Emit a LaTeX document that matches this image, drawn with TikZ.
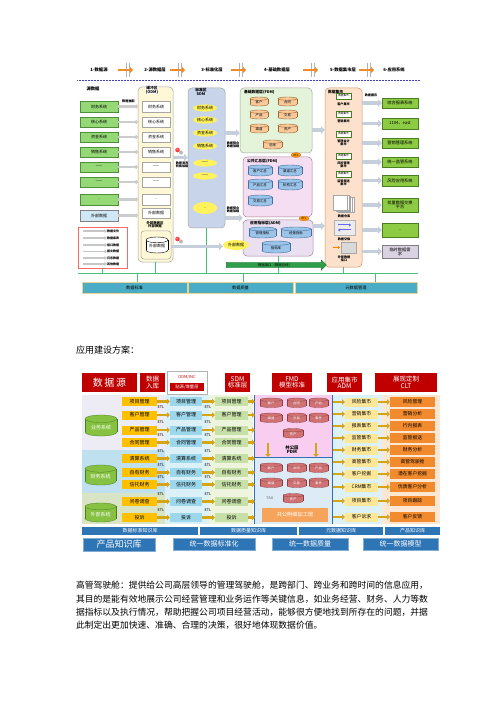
\documentclass[tikz,border=0pt]{standalone}
\usepackage{fontspec}
\setmainfont{Noto Sans CJK SC}
\usetikzlibrary{arrows.meta,shapes.geometric,shapes.arrows}
\definecolor{srcg}{HTML}{95D977}
\definecolor{srcgd}{HTML}{4F8F3A}
\definecolor{extb}{HTML}{CFE8F3}
\definecolor{odmbg}{HTML}{FFF8D6}
\definecolor{sdmbg}{HTML}{C7D4EA}
\definecolor{yel}{HTML}{FFF25C}
\definecolor{fdmbg}{HTML}{E4F4DA}
\definecolor{tanc}{HTML}{F7C99B}
\definecolor{tand}{HTML}{A0652E}
\definecolor{sumbg}{HTML}{F5DDF2}
\definecolor{bcyl}{HTML}{9CC3E8}
\definecolor{bcyld}{HTML}{44719E}
\definecolor{admbg}{HTML}{EBE0F2}
\definecolor{appbg}{HTML}{FCE2CC}
\definecolor{appbd}{HTML}{D09060}
\definecolor{appg}{HTML}{8DCB45}
\definecolor{appgd}{HTML}{4A7F1F}
\definecolor{tmpbx}{HTML}{D9D2E3}
\definecolor{btm}{HTML}{4AACC6}
\definecolor{btmbd}{HTML}{E8D58A}
\definecolor{lineg}{HTML}{45C07A}
\definecolor{busg}{HTML}{2E9E4A}
\definecolor{farr}{HTML}{C5CFDB}
\definecolor{harr}{HTML}{F28C28}
\definecolor{hred}{HTML}{C00000}
\definecolor{ayel}{HTML}{FFC000}
\definecolor{bblue}{HTML}{9DD7EB}
\definecolor{cgreen}{HTML}{C6E0A8}
\definecolor{gA}{HTML}{EDEBF3}
\definecolor{gB}{HTML}{BEE0EF}
\definecolor{gC}{HTML}{D9E4C5}
\definecolor{colB}{HTML}{DCF1F7}
\definecolor{colC}{HTML}{EDF5DE}
\definecolor{fpink}{HTML}{F9CDEF}
\definecolor{fblue}{HTML}{DDEBF7}
\definecolor{rose}{HTML}{C8585A}
\definecolor{admbgb}{HTML}{DDF2F8}
\definecolor{admbx}{HTML}{FFE79A}
\definecolor{cltbg}{HTML}{FDE7D3}
\definecolor{cltbx}{HTML}{F28A2E}
\definecolor{gold}{HTML}{D4A419}
\definecolor{kb}{HTML}{2E75B6}
\definecolor{obox}{HTML}{F6A45C}
\definecolor{vline}{HTML}{2E6FB5}
\newcommand{\fsz}[1]{\fontsize{#1}{#1}\selectfont}
\newcommand{\bx}[7]{\node[#1,minimum width={((#5)-(#3))*1pt},minimum height={((#6)-(#4))*1pt}] (#2) at ({((#3)+(#5))/2},{((#4)+(#6))/2}) {#7};}
\newcommand{\cyl}[8]{%
\pgfmathsetmacro{\cxa}{((#4)+(#6))/2}%
\pgfmathsetmacro{\rxa}{((#6)-(#4))/2}%
\pgfmathsetmacro{\rya}{((#7)-(#5))*0.18}%
\pgfmathsetmacro{\ytp}{(#5)+\rya}%
\pgfmathsetmacro{\ybt}{(#7)-\rya}%
\pgfmathsetmacro{\ytx}{(\ytp+(#7))/2}%
\path[#1] (\cxa,\ybt) ellipse [x radius=\rxa pt, y radius=\rya pt];%
\path[#1,draw=none] (#4,\ytp) rectangle (#6,\ybt);%
\path[#1,fill=none] (#4,\ytp) -- (#4,\ybt) (#6,\ytp) -- (#6,\ybt);%
\path[#1] (\cxa,\ytp) ellipse [x radius=\rxa pt, y radius=\rya pt];%
\node[#2,inner sep=0pt,align=center] (#3) at (\cxa,\ytx) {#8};}
\tikzset{
 base/.style={inner sep=0pt,outer sep=0pt,align=center},
 ta/.style={font=\fsz{4}},
 tb/.style={font=\fsz{3.4}},
 wt5/.style={font=\fsz{5},text=white},
 wt34/.style={font=\fsz{3.4},text=white},
 gbox/.style={base,ta,fill=srcg,draw=srcgd,line width=0.4pt},
 ebox/.style={base,ta,fill=extb,draw=gray,line width=0.4pt},
 doc/.style={base,ta,fill=white,draw=gray!70,line width=0.4pt},
 cont/.style={base,draw=gray!70,line width=0.5pt,rounded corners=4pt},
 yell/.style={base,ta,ellipse,fill=yel},
 fatarr/.style={line width=3.2pt,draw=farr,-{Triangle[length=4pt,width=7.5pt]}},
 grarr/.style={line width=2.2pt,draw=gray!40,-{Circle[length=3.5pt,open,fill=white]}},
 redarr/.style={line width=1.6pt,draw=gray!45,-{Triangle[length=2.5pt,width=4pt]}},
 tancyl/.style={fill=tanc,draw=tand,line width=0.4pt},
 bluecyl/.style={fill=bcyl,draw=bcyld,line width=0.4pt},
 whcyl/.style={fill=white,draw=black,line width=0.4pt},
 appgbox/.style={base,font=\fsz{4.2},fill=appg,draw=appgd,line width=0.5pt},
 btmbox/.style={base,font=\fsz{4.2},fill=btm,draw=btmbd,line width=0.6pt},
 etlb/.style={base,ellipse,fill=orange!85!yellow,draw=brown,line width=0.3pt,font=\fsz{2.8},minimum width=10pt,minimum height=5pt},
 hdr/.style={base,fill=hred,text=white,font=\fsz{6.5}},
 abox/.style={base,font=\fsz{5},fill=ayel},
 bboxs/.style={base,font=\fsz{5},fill=bblue},
 cboxs/.style={base,font=\fsz{5},fill=cgreen},
 admboxs/.style={base,font=\fsz{4.8},fill=admbx},
 cltboxs/.style={base,font=\fsz{4.8},fill=cltbx},
 garr/.style={line width=2.4pt,draw=gold,-{Triangle[length=3pt,width=5.5pt]}},
 etl/.style={base,font=\fsz{3.8}},
 rosecyl/.style={fill=rose!85,draw=rose!70!black,line width=0.3pt},
 grcyl/.style={fill=appg!95!black,draw=appgd,line width=0.3pt},
 kbbar/.style={base,font=\fsz{5},fill=kb,text=white},
 kbbig/.style={base,fill=kb,text=white,draw=kb!60,line width=0.6pt},
 para/.style={base,anchor=west,font=\fsz{8.8}}
}
\begin{document}
\begin{tikzpicture}[x=1pt,y=-1pt]
\useasboundingbox (0,0) rectangle (500,708);
\fill[white] (0,0) rectangle (500,708);
% ================= Diagram 1 =================
\foreach \i/\xx/\tx in {1/99/1-数据源,2/155/2-源数据层,3/212/3-标准化层,4/277/4-基础数据层,5/343/5-数据集市层,6/394/6-应用系统}{
 \node[base,font=\fsz{4.3}\bfseries] (hd\i) at (\xx,70) {\tx};}
\foreach \xs in {128,180,241,313,369}{
 \draw[gray!60,line width=0.5pt] (\xs-1.6,63) -- (\xs-1.6,77) (\xs+1.6,63) -- (\xs+1.6,77);
 \draw[harr,line width=2.6pt,-{Triangle[length=3pt,width=6pt]}] (\xs-10,70) -- (\xs+5,70);}
\draw[gray!50!blue,densely dotted,line width=0.5pt] (77,80) -- (420,80);
\coordinate (glL) at (78,273);
\coordinate (glR) at (418,273);
% containers
\bx{cont,fill=odmbg}{odm}{138}{87}{173}{262}{}
\bx{cont,fill=sdmbg}{sdm}{188}{88}{225}{228}{}
\bx{cont,fill=fdmbg}{fdm}{240}{88}{312}{153}{}
\bx{cont,fill=sumbg,draw=gray!80!magenta}{sumb}{243}{157}{312}{217}{}
\bx{cont,fill=admbg,draw=gray!80!magenta}{adm}{243}{220}{313}{256}{}
\bx{cont,fill=appbg,draw=appbd}{app}{325}{88}{362}{267}{}
\bx{base,fill=white,draw=red!60,line width=0.6pt}{redb}{78}{227}{127}{268}{}
% green line and ticks
\draw[lineg,line width=1pt] (glL) -- (glR);
\draw[lineg,line width=0.8pt] (redb.south) -- (redb.south |- glL);
\draw[lineg,line width=0.8pt] (odm.south) -- (odm.south |- glL);
\draw[lineg,line width=0.8pt] (sdm.south) -- (sdm.south |- glL);
\draw[lineg,line width=0.8pt] (adm.south) -- (adm.south |- glL);
\draw[lineg,line width=0.8pt] (app.south) -- (app.south |- glL);
% labels of containers
\node[base,font=\fsz{4.3}\bfseries] (srclab) at (93,89) {源数据};
\node[base,font=\fsz{3.8}\bfseries,fill=white] (odmlab) at (152,90) {缓冲区\\(ODM)};
\node[base,font=\fsz{3.8}\bfseries] (sdmlab) at (201,92) {标准区\\SDM};
\node[base,font=\fsz{3.8}\bfseries,anchor=west] (fdmlab) at (244,92) {基础数据层(FDM)};
\node[base,font=\fsz{3.8}\bfseries,anchor=west] (sumlab) at (247,161) {公共汇总层(FDM)};
\node[base,font=\fsz{3.8}\bfseries,anchor=west] (admlab) at (250,223.5) {应用指标层(ADM)};
\node[base,font=\fsz{3.8}\bfseries,anchor=west] (applab) at (328,92) {数据集市};
% sources and ODM docs
\foreach \i/\ya/\yb/\tx in {1/101/112/财务系统,2/117/127/核心系统,3/132/142/资金系统,4/147/157/销售系统,5/162/172/——,6/177/187/——,7/194/205/..}{
 \bx{gbox}{s\i}{80}{\ya}{118}{\yb}{\tx}
 \bx{doc}{o\i}{142}{\ya}{170}{\yb}{\tx}
 \draw[grarr] (s\i.east) -- (s\i.east -| odm.west);}
\bx{ebox}{s8}{80}{210}{118}{221}{外部数据}
\bx{doc}{o8}{142}{208}{170}{218}{外部数据}
\draw[grarr] (s8.east) -- (s8.east -| odm.west);
\node[base,font=\fsz{3.2}\bfseries] (extract) at (128.5,101.5) {数据抽取};
\node[base,font=\fsz{3.4}\bfseries] (extlab) at (155,225) {外部数据区\\外部数据};
\bx{cont,fill=odmbg,rounded corners=3pt}{obx}{141}{231}{171}{259}{}
\cyl{whcyl}{ta}{extc}{146}{237}{168}{253}{外部数据}
% red box contents
\foreach \i/\yy/\tx in {1/231/数据文件,2/238/数据库表,3/245/接口数据,4/251.5/报文数据,5/258/日志数据,6/264/其他数据}{
 \coordinate (ra\i) at (83,\yy);
 \node[base,font=\fsz{3}\bfseries,anchor=west] (rl\i) at (107,\yy) {\tx};
 \draw[redarr] (ra\i) -- (rl\i.west);}
% SDM ellipses
\foreach \i/\yc/\tx in {1/108/财务系统,2/120/核心系统,3/133/资金系统,4/146/销售系统,5/163/——,6/176/——}{
 \bx{yell}{sd\i}{193}{\yc-3.6}{217}{\yc+3.6}{\tx}}
\bx{yell}{sd7}{193}{202}{217}{214}{..}
\bx{yell}{ye}{223}{240}{249}{250}{外部数据}
% ETL icons
\foreach \i/\yy in {1/150,2/239}{
 \fill[gray!55] (181,\yy+2.5) circle (2pt);
 \fill[red!75] (177.5,\yy) circle (2.3pt);
 \fill[white,opacity=0.6] (177,\yy-0.8) circle (0.7pt);}
\draw[fatarr] ([yshift=17pt]odm.east) -- ([yshift=17pt]odm.east -| sdm.west);
\node[base,font=\fsz{3.1}\bfseries] (odml) at (182,165) {数据清洗\\转换加载};
\draw[fatarr] (extc.east -| obx.east) -- (extc.east -| ye.west);
\draw[fatarr] ([yshift=25pt]sdm.east) -- ([yshift=25pt]sdm.east -| fdm.west);
\node[base,font=\fsz{3.1}\bfseries] (sdml1) at (233,145) {数据整合\\数据加载};
\draw[fatarr] ([yshift=-60pt]sdm.east) -- ([yshift=-60pt]sdm.east -| sumb.west);
\node[base,font=\fsz{3.1}\bfseries] (sdml2) at (233,210) {数据整合\\数据加载};
% FDM cylinders
\cyl{tancyl}{tb}{f1}{250}{97}{268}{106}{客户}
\cyl{tancyl}{tb}{f2}{278}{97}{297}{106}{合同}
\cyl{tancyl}{tb}{f3}{250}{110}{268}{119}{产品}
\cyl{tancyl}{tb}{f4}{278}{110}{297}{119}{交易}
\cyl{tancyl}{tb}{f5}{250}{124}{268}{133}{渠道}
\cyl{tancyl}{tb}{f6}{278}{124}{297}{133}{资产}
\cyl{tancyl}{tb}{f7}{263}{140}{282}{149}{总账}
% summary cylinders
\cyl{bluecyl}{tb}{u1}{248}{165}{272}{176}{客户汇总}
\cyl{bluecyl}{tb}{u2}{278}{165}{302}{176}{渠道汇总}
\cyl{bluecyl}{tb}{u3}{248}{179}{272}{190}{产品汇总}
\cyl{bluecyl}{tb}{u4}{278}{179}{302}{190}{机构汇总}
\cyl{bluecyl}{tb}{u5}{248}{195}{272}{206}{交易汇总}
% ADM cylinders
\cyl{bluecyl}{tb}{m1}{249}{227}{276}{238}{管理指标}
\cyl{bluecyl}{tb}{m2}{281}{227}{311}{238}{经营指标}
\cyl{bluecyl}{tb}{m3}{262}{241}{290}{253}{指标库}
\node[etlb] (etlb1) at (296,155) {ETL};
\node[etlb] (etlb2) at (304,218.5) {ETL};
\draw[fatarr] ([yshift=-9.5pt]fdm.east) -- ([yshift=-9.5pt]fdm.east -| app.west);
\draw[fatarr] ([yshift=12pt]adm.east) -- ([yshift=12pt]adm.east -| app.west);
% App (mart) contents
\foreach \i/\ya/\yt/\tx in {1/93/104/客户集市,2/111/121/营销集市,3/131/143/管理会计\\集市,4/153/165/风险管理\\集市,5/171/183/监管报送\\集市}{
 \bx{base,font=\fsz{2.6},fill=white,draw=appgd,line width=0.4pt}{ai\i}{336}{\ya}{351}{\ya+6}{数据集市}
 \node[base,font=\fsz{3.1}\bfseries] (at\i) at (343.5,\yt) {\tx};}
\foreach \k in {4,3,2,1,0}{
 \draw[fill=white,draw=gray!70,line width=0.3pt] (333+\k*1.8,195+\k*0.6) rectangle (347+\k*1.8,210+\k*0.6);}
\node[base,font=\fsz{3.1}\bfseries] (dwl) at (344,216) {数据仓库};
\bx{base,fill=gray!15,draw=gray!60,line width=0.3pt}{exch}{334}{220}{355}{235}{}
\draw[blue!60,line width=1pt,-{Triangle[length=2pt,width=3pt]}] (338,225) -- (351,225);
\draw[blue!60,line width=1pt,-{Triangle[length=2pt,width=3pt]}] (351,230) -- (338,230);
\node[base,font=\fsz{3.1}\bfseries] (exl) at (344,239) {数据交换};
\bx{base,fill=gray!30,draw=gray!70,line width=0.3pt}{srv}{341}{242}{356}{253}{}
\draw[orange,line width=1.2pt,-{Triangle[length=2pt,width=3pt]}] (333,247.5) -- (340,247.5);
\node[base,font=\fsz{3.1}\bfseries] (srvl) at (344,259) {外部数据\\接口};
% right app systems
\foreach \i/\ya/\yb/\tx in {1/98/108/综合报表系统,2/118/129/1104、east,3/138/148/营销管理系统,4/157/167/统一监管系统,5/175/186/风险应用系统,6/198/212/批量数据交换\\平台,7/223/237/..}{
 \bx{appgbox}{r\i}{382}{\ya}{418}{\yb}{\tx}
 \draw[fatarr] (r\i.west -| app.east) -- (r\i.west);}
\bx{appgbox,fill=tmpbx,draw=gray}{r8}{382}{245}{418}{258}{临时数据需\\求}
\draw[fatarr] (r8.west -| app.east) -- (r8.west);
\node[base,font=\fsz{3.1}\bfseries] (svc) at (371,95) {数据服务};
% bus arrow
\node[single arrow,fill=busg,draw=busg!70!black,line width=0.3pt,minimum height=100pt,minimum width=10pt,single arrow head extend=1.5pt,inner sep=0pt,font=\fsz{3.4}] (bus) at (275,265) {数据接口（数据总线）};
% bottom boxes
\bx{btmbox}{k1}{82}{282}{187}{293}{数据标准}
\bx{btmbox}{k2}{188}{282}{293}{293}{数据质量}
\bx{btmbox}{k3}{295}{282}{417}{293}{元数据管理}
\draw[lineg,line width=0.8pt] ([xshift=3pt]k1.north) -- ([xshift=3pt]k1.north |- glL);
\draw[lineg,line width=0.8pt] ([xshift=3pt]k2.north) -- ([xshift=3pt]k2.north |- glL);
\draw[lineg,line width=0.8pt] ([xshift=19pt]k3.north) -- ([xshift=19pt]k3.north |- glL);
% ================= Diagram 2 =================
\node[base,anchor=west,font=\fsz{9}] (title2) at (76,350) {应用建设方案：};
% backgrounds
\bx{base,fill=gA}{gr1}{82}{395}{165}{450}{}
\bx{base,fill=gB}{gr2}{82}{450}{165}{492.5}{}
\bx{base,fill=gC}{gr3}{82}{492.5}{165}{524}{}
\bx{base,fill=colB}{bgB}{165}{395}{209}{524}{}
\bx{base,fill=colC}{bgC}{209}{395}{253}{524}{}
\bx{base,fill=fpink}{fmdU}{254}{395}{332}{457.5}{}
\bx{base,fill=fblue}{fmdL}{254}{457.5}{332}{524}{}
\bx{base,fill=admbgb}{bgD}{333}{395}{382}{524}{}
\bx{base,fill=cltbg}{bgE}{382}{395}{440}{524}{}
\draw[vline,line width=1pt] (fmdU.north west) -- (fmdL.south west);
\draw[vline,line width=0.8pt] (fmdU.north east) -- (fmdL.south east);
\draw[vline,line width=0.6pt] (fmdU.south west) -- (fmdU.south east);
% headers
\bx{hdr,font=\fsz{10}}{H1}{82}{373}{137}{392}{数\,据\,源}
\bx{hdr}{H2}{140}{373}{165}{392}{数据\\入库}
\bx{base,fill=white,draw=gray!60,line width=0.6pt}{H3o}{167}{371}{207}{394}{}
\bx{base,fill=hred}{H3}{170}{382.5}{204}{391}{}
\node[base,text=hred,font=\fsz{4}] (h3a) at (187,377.5) {ODM/INC};
\node[base,text=white,font=\fsz{4.3}] (h3b) at (187,386.8) {贴源/增量层};
\bx{hdr}{H4}{225}{373}{250}{392}{SDM\\标准层}
\bx{hdr}{H5}{272}{373}{312}{392}{FMD\\模型标准}
\bx{hdr}{H6}{327}{373}{362}{392}{应用集市\\ADM}
\bx{hdr}{H7}{375}{373}{437}{392}{展现定制\\CLT}
% left cylinders
\cyl{grcyl}{wt5}{lc1}{85}{415}{117}{436}{业务系统}
\cyl{grcyl}{wt5}{lc2}{85}{465}{116}{485}{财务系统}
\cyl{grcyl}{wt5}{lc3}{85}{503}{116}{522}{外部系统}
% rows A B C
\foreach \i/\rr/\tx in {1/401.5/项目管理,2/415/客户管理,3/430/产品管理,4/442.5/合同管理,5/458.5/清算系统,6/472.5/自有财务,7/484.5/信托财务,8/501.5/问卷调查,9/517.5/投诉}{
 \bx{abox}{a\i}{122}{\rr-4.5}{157}{\rr+4.5}{\tx}
 \bx{bboxs}{b\i}{170}{\rr-4.5}{202}{\rr+4.5}{\tx}
 \bx{cboxs}{c\i}{215}{\rr-4.5}{248}{\rr+4.5}{\tx}
 \draw[garr] (a\i.east) -- (b\i.west);
 \draw[garr] (b\i.east) -- (c\i.west);
 \draw[garr,shorten >=-1pt] (c\i.east) -- (c\i.east -| fmdU.west);}
\foreach \i/\rr in {2/415,3/430,4/442.5,5/458.5,6/472.5,7/484.5,8/501.5,9/517.5}{
 \node[etl] (ea\i) at (161,{\rr-7.5}) {ETL};
 \node[etl] (eb\i) at (208,{\rr-7.5}) {ETL};}
% FMD cylinders
\foreach \p/\y in {u/398,l/463}{
 \cyl{rosecyl}{wt34}{fm\p1}{260}{\y}{282}{\y+9.5}{客户}
 \cyl{rosecyl}{wt34}{fm\p2}{287}{\y}{306}{\y+9.5}{合同}
 \cyl{rosecyl}{wt34}{fm\p3}{309}{\y}{328}{\y+9.5}{产品}
 \cyl{rosecyl}{wt34}{fm\p4}{260}{\y+15}{282}{\y+24.5}{渠道}
 \cyl{rosecyl}{wt34}{fm\p5}{287}{\y+15}{306}{\y+24.5}{交易}
 \cyl{rosecyl}{wt34}{fm\p6}{309}{\y+15}{328}{\y+24.5}{事件}
 \cyl{rosecyl}{wt34}{fm\p7}{283}{\y+30.5}{303}{\y+40}{资产}}
\node[base,font=\fsz{4.4}\bfseries] (pdm) at (292,449.5) {共公层\\PDM};
\coordinate (dA1) at (268,443);
\coordinate (dA2) at (268,457);
\coordinate (dB1) at (316,443);
\coordinate (dB2) at (316,457);
\draw[garr] (dA1) -- (dA2);
\draw[garr] (dB1) -- (dB2);
\node[base,font=\fsz{3.6},text=gray!70!black] (tag) at (270,498) {TAG};
\bx{base,fill=obox,text=white,font=\fsz{5.2}}{pub}{262}{508}{328}{522}{共公明细加工层}
% ADM & CLT
\foreach \i/\rr/\ta/\tc in {1/402/风险集市/风险管理,2/414/营销集市/营销分析,3/426/报表集市/行内报表,4/438/监管集市/监管报送,5/450/财务集市/财务分析,6/462/高管集市/高管驾驶舱,7/474/客户挖掘/潜在客户挖掘,8/487/CRM集市/优质客户分析,9/501/项目集市/项目跟踪,10/517/客户诉求/客户反馈}{
 \bx{admboxs}{d\i}{345}{\rr-4.5}{378}{\rr+4.5}{\ta}
 \bx{cltboxs}{e\i}{390}{\rr-5}{435}{\rr+5}{\tc}
 \draw[garr] (d\i.west -| bgD.west) -- (d\i.west);
 \draw[garr] (d\i.east) -- (d\i.east -| e\i.west);}
% knowledge bars
\bx{kbbar}{kb1}{82}{527}{198}{535}{数据标准知识库}
\bx{kbbar}{kb2}{200}{527}{297}{535}{数据质量知识库}
\bx{kbbar}{kb3}{299}{527}{383}{535}{元数据知识库}
\bx{kbbar}{kb4}{385}{527}{440}{535}{产品知识库}
\bx{kbbig,font=\fsz{9}}{u1b}{83}{538}{155}{551}{产品知识库}
\bx{kbbig,font=\fsz{7}}{u2b}{173}{538}{255}{550}{统一数据标准化}
\bx{kbbig,font=\fsz{7}}{u3b}{272}{538}{348}{550}{统一数据质量}
\bx{kbbig,font=\fsz{7}}{u4b}{363}{538}{438}{550}{统一数据模型}
% ================= paragraph =================
\node[para] (p1) at (76,585.5) {高管驾驶舱：提供给公司高层领导的管理驾驶舱，是跨部门、跨业务和跨时间的信息应用，};
\node[para] (p2) at (76,599) {其目的是能有效地展示公司经营管理和业务运作等关键信息，如业务经营、财务、人力等数};
\node[para] (p3) at (76,612.5) {据指标以及执行情况，帮助把握公司项目经营活动，能够很方便地找到所存在的问题，并据};
\node[para] (p4) at (76,625.5) {此制定出更加快速、准确、合理的决策，很好地体现数据价值。};
\end{tikzpicture}
\end{document}
